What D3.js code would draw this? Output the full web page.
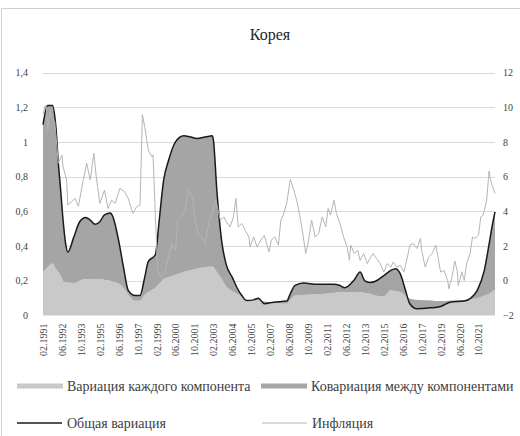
<!DOCTYPE html>
<html>
<head>
<meta charset="utf-8">
<script src="https://cdn.jsdelivr.net/npm/d3@7"></script>
<style>
  body { margin: 0; background: #fff; }
  svg text { font-family: "Liberation Serif", "Times New Roman", serif; fill: #404040; }
</style>
</head>
<body>
<div id="chart"></div>
<script>
// ---- data ----
var varDates = ["1991-02","1991-06","1991-10","1992-01","1992-03","1992-05","1992-07","1992-09","1992-11",
  "1993-04","1993-09","1994-02","1994-06","1994-10","1995-02","1995-06","1995-11","1996-01","1996-06","1996-10",
  "1997-02","1997-08","1997-12","1998-04","1998-07","1999-01","1999-04","1999-08","1999-12","2000-06","2001-01",
  "2001-06","2001-12","2002-08","2003-01","2003-02","2003-05","2003-09","2004-01","2004-06","2004-10","2005-02",
  "2005-06","2005-12","2006-04","2006-09","2007-05","2008-04","2008-07","2008-11","2009-06","2010-06","2011-08",
  "2012-01","2012-05","2013-01","2013-06","2013-10","2014-03","2014-07","2015-02","2015-08","2015-12","2016-04",
  "2016-08","2016-12","2017-06","2018-05","2019-02","2019-10","2020-10","2021-03","2021-09","2022-03","2022-07",
  "2022-10","2022-12"];
// variance of each component (light area)
var indivVar = [0.25,0.28,0.30,0.27,0.25,0.23,0.20,0.19,0.19,
  0.187,0.20,0.21,0.21,0.21,0.21,0.205,0.20,0.195,0.185,0.16,
  0.12,0.085,0.087,0.12,0.135,0.16,0.18,0.21,0.22,0.235,0.25,
  0.26,0.27,0.28,0.283,0.28,0.25,0.21,0.165,0.14,0.125,0.11,
  0.09,0.088,0.087,0.08,0.07,0.068,0.09,0.115,0.118,0.122,0.13,
  0.135,0.135,0.135,0.135,0.13,0.125,0.115,0.11,0.145,0.14,0.135,
  0.115,0.097,0.09,0.087,0.083,0.085,0.09,0.095,0.10,0.115,0.125,
  0.14,0.149];
// total variance (black line); covariance = total - indivVar
var totalVar = [1.10,1.21,1.21,1.08,0.88,0.72,0.55,0.42,0.366,
  0.45,0.54,0.565,0.55,0.526,0.54,0.58,0.59,0.57,0.43,0.28,
  0.145,0.115,0.115,0.22,0.31,0.35,0.53,0.78,0.89,1.00,1.035,
  1.03,1.02,1.03,1.035,1.01,0.72,0.43,0.29,0.22,0.16,0.115,
  0.087,0.09,0.10,0.068,0.077,0.083,0.125,0.173,0.187,0.18,0.18,
  0.173,0.16,0.205,0.25,0.20,0.19,0.197,0.23,0.26,0.27,0.24,
  0.154,0.068,0.039,0.044,0.052,0.077,0.083,0.097,0.145,0.26,0.41,
  0.53,0.597];

var inflDates = ["1991-02","1991-04","1991-05","1991-06","1991-08","1991-09","1991-12","1992-03","1992-06","1992-07",
  "1992-10","1992-11","1993-02","1993-05","1993-08","1993-12","1994-03","1994-06","1994-09","1994-11",
  "1995-02","1995-06","1995-09","1995-12","1996-03","1996-07","1996-11","1997-02","1997-06","1997-09",
  "1997-12","1998-02","1998-04","1998-07","1998-10","1998-11","1999-01","1999-03","1999-06","1999-09",
  "1999-12","2000-03","2000-06","2000-08","2000-11","2001-02","2001-05","2001-08","2001-11","2002-01",
  "2002-04","2002-07","2002-10","2003-01","2003-04","2003-08","2003-11","2004-01","2004-04","2004-07",
  "2004-09","2004-11","2005-02","2005-05","2005-08","2005-09","2005-12","2006-03","2006-06","2006-09",
  "2006-11","2007-01","2007-03","2007-06","2007-09","2007-11","2008-01","2008-04","2008-07","2008-10",
  "2009-01","2009-03","2009-06","2009-08","2009-10","2010-01","2010-04","2010-07","2010-10","2011-01",
  "2011-03","2011-05","2011-08","2011-10","2012-01","2012-04","2012-07","2012-09","2012-10","2013-01",
  "2013-04","2013-06","2013-09","2013-12","2014-03","2014-05","2014-08","2014-11","2015-02","2015-05",
  "2015-08","2015-10","2016-01","2016-04","2016-07","2016-10","2016-12","2017-03","2017-06","2017-09",
  "2017-10","2018-01","2018-04","2018-07","2018-10","2018-12","2019-02","2019-05","2019-08","2019-09",
  "2019-12","2020-02","2020-04","2020-05","2020-08","2020-10","2020-12","2021-03","2021-05","2021-07",
  "2021-10","2021-12","2022-02","2022-05","2022-07","2022-09","2022-10","2022-12"];
var inflation = [9.6,10.1,9.95,8.7,9.85,9.46,9.17,6.77,7.25,6.57,
  5.8,4.36,4.55,4.75,4.3,5.8,6.77,5.8,7.35,6.0,
  4.46,5.23,4.17,4.65,4.46,5.32,5.13,4.75,3.88,4.26,
  4.36,9.56,8.88,7.54,7.15,7.25,3.68,0.6,0.21,0.5,
  1.37,2.14,1.76,3.49,3.68,4.07,5.23,4.84,3.39,2.72,
  2.53,2.14,3.3,3.88,4.65,3.49,3.68,3.39,3.1,3.68,
  4.75,3.1,3.3,2.91,2.53,1.95,2.53,1.95,2.34,2.62,
  2.14,1.66,2.34,2.53,2.05,3.49,3.78,4.46,5.84,5.23,
  4.46,3.78,2.53,1.57,2.14,3.49,2.53,2.72,3.68,3.1,
  4.17,3.78,4.65,3.88,3.3,2.53,1.95,1.18,2.05,1.57,
  1.76,1.18,1.57,0.99,1.37,1.57,1.28,0.99,0.5,0.99,
  0.79,1.08,0.79,0.89,0.5,1.37,2.05,2.14,1.86,2.43,
  1.76,0.79,1.37,1.57,2.05,1.28,0.5,0.6,0.02,-0.46,
  0.31,1.14,0.6,-0.27,0.5,0.02,0.99,1.57,2.53,2.43,
  2.62,3.68,3.78,4.65,6.32,5.61,5.42,5.03];

var tickLabels = ["02.1991","06.1992","10.1993","02.1995","06.1996","10.1997","02.1999","06.2000",
  "10.2001","02.2003","06.2004","10.2005","02.2007","06.2008","10.2009","02.2011","06.2012",
  "10.2013","02.2015","06.2016","10.2017","02.2019","06.2020","10.2021"];
var leftTicks = [0, 0.2, 0.4, 0.6, 0.8, 1, 1.2, 1.4];
var rightTicks = [-2, 0, 2, 4, 6, 8, 10, 12];

var title = "Корея";
var legendNames = ["Вариация каждого компонента", "Ковариация между компонентами", "Общая вариация", "Инфляция"];

// ---- layout ----
var width = 520, height = 436;
var margin = {left: 43, right: 25, top: 72.5, bottom: 120.5};

var parseM = d3.timeParse("%Y-%m");
var parseTick = d3.timeParse("%m.%Y");

var varData = varDates.map(function (d, i) {
    return {date: parseM(d), indiv: indivVar[i], total: totalVar[i]};
});
var inflData = inflDates.map(function (d, i) {
    return {date: parseM(d), value: inflation[i]};
});

var svg = d3.select("#chart").append("svg")
    .attr("width", width)
    .attr("height", height);

// chart border
svg.append("rect")
    .attr("x", 1.5).attr("y", 8.5)
    .attr("width", 540).attr("height", 460)
    .attr("fill", "none")
    .attr("stroke", "#d0d0d0");

svg.append("text")
    .attr("x", 270).attr("y", 40)
    .attr("text-anchor", "middle")
    .style("font-size", "16px")
    .style("fill", "#262626")
    .text(title);

var x = d3.scaleTime()
    .domain([parseM("1991-02"), parseM("2022-12")])
    .range([margin.left, width - margin.right]);

var yL = d3.scaleLinear()
    .domain([0, 1.4])
    .range([height - margin.bottom, margin.top]);

var yR = d3.scaleLinear()
    .domain([-2, 12])
    .range([height - margin.bottom, margin.top]);

// gridlines
svg.append("g").attr("class", "grid")
    .selectAll("line")
    .data(leftTicks.slice(1))
    .enter().append("line")
    .attr("x1", margin.left)
    .attr("x2", width - margin.right)
    .attr("y1", function (d) { return Math.round(yL(d)) + 0.5; })
    .attr("y2", function (d) { return Math.round(yL(d)) + 0.5; })
    .attr("stroke", "#d9d9d9")
    .attr("stroke-width", 1);

// areas
var curve = d3.curveMonotoneX;

var lightArea = d3.area()
    .curve(curve)
    .x(function (d) { return x(d.date); })
    .y0(yL(0))
    .y1(function (d) { return yL(d.indiv); });

var covArea = d3.area()
    .curve(curve)
    .x(function (d) { return x(d.date); })
    .y0(function (d) { return yL(d.indiv); })
    .y1(function (d) { return yL(d.total); });

svg.append("path")
    .datum(varData)
    .attr("d", lightArea)
    .attr("fill", "#c9c9c9");

svg.append("path")
    .datum(varData)
    .attr("d", covArea)
    .attr("fill", "#a5a5a5");

// total variance
var totalLine = d3.line()
    .curve(curve)
    .x(function (d) { return x(d.date); })
    .y(function (d) { return yL(d.total); });

svg.append("path")
    .datum(varData)
    .attr("d", totalLine)
    .attr("fill", "none")
    .attr("stroke", "#1a1a1a")
    .attr("stroke-width", 1.5)
    .attr("stroke-linejoin", "round");

// inflation (right axis)
var inflLine = d3.line()
    .x(function (d) { return x(d.date); })
    .y(function (d) { return yR(d.value); });

svg.append("path")
    .datum(inflData)
    .attr("d", inflLine)
    .attr("fill", "none")
    .attr("stroke", "#b5b5b5")
    .attr("stroke-width", 1)
    .attr("stroke-linejoin", "round");

// axes
var fmtComma = function (d) { return String(d).replace(".", ","); };

var gL = svg.append("g")
    .attr("transform", "translate(" + margin.left + ",0)")
    .call(d3.axisLeft(yL).tickValues(leftTicks).tickFormat(fmtComma).tickSize(0).tickPadding(15));
var gR = svg.append("g")
    .attr("transform", "translate(" + (width - margin.right) + ",0)")
    .call(d3.axisRight(yR).tickValues(rightTicks).tickSize(0).tickPadding(8));
var gX = svg.append("g")
    .attr("transform", "translate(0," + (height - margin.bottom) + ")")
    .call(d3.axisBottom(x).tickValues(tickLabels.map(parseTick))
        .tickFormat(d3.timeFormat("%m.%Y")).tickSize(0));

[gL, gR, gX].forEach(function (g) {
    g.select(".domain").remove();
    g.selectAll("text")
        .style("font-size", "10px")
        .style("fill", "#404040")
        .style("font-family", "'Liberation Serif', 'Times New Roman', serif");
});

gX.selectAll("text")
    .attr("transform", "rotate(-90)")
    .attr("text-anchor", "end")
    .attr("x", -8)
    .attr("y", 0)
    .attr("dy", "0.35em");

// legend
var legend = svg.append("g").attr("class", "legend");
var legendItems = [
    {name: legendNames[0], type: "rect", color: "#c9c9c9", x: 17, y: 386, w: 1},
    {name: legendNames[1], type: "rect", color: "#a5a5a5", x: 261, y: 386, w: 1},
    {name: legendNames[2], type: "line", color: "#1a1a1a", x: 17, y: 423, w: 1.5},
    {name: legendNames[3], type: "line", color: "#b5b5b5", x: 262, y: 423, w: 1}
];

legendItems.forEach(function (d) {
    if (d.type === "rect") {
        legend.append("rect")
            .attr("x", d.x).attr("y", d.y - 2.5)
            .attr("width", 46).attr("height", 5)
            .attr("fill", d.color);
    } else {
        legend.append("line")
            .attr("x1", d.x).attr("x2", d.x + 45)
            .attr("y1", d.y).attr("y2", d.y)
            .attr("stroke", d.color)
            .attr("stroke-width", d.w);
    }
    legend.append("text")
        .attr("x", d.x + 50)
        .attr("y", d.y)
        .attr("dy", "0.35em")
        .style("font-size", "14px")
        .style("fill", "#404040")
        .text(d.name);
});
</script>
</body>
</html>
